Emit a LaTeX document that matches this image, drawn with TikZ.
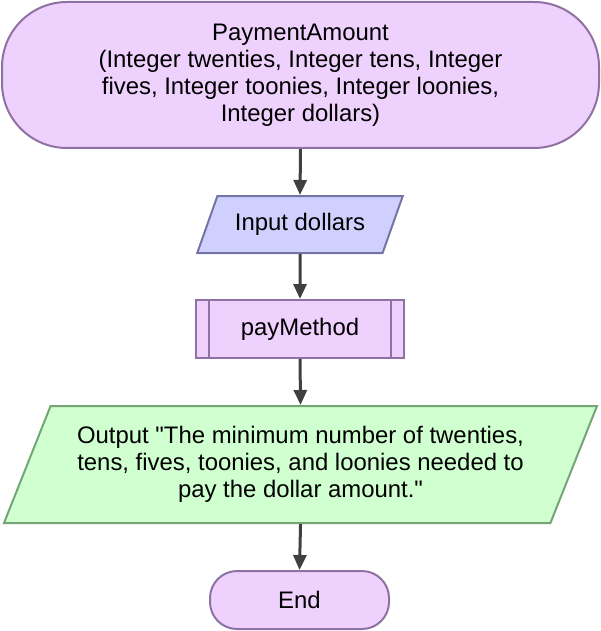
\documentclass[tikz,border=0pt]{standalone}
\usepackage{xcolor}
\usepackage{fontspec}
\setmainfont{Liberation Sans}
\usepackage{tikz}
\usetikzlibrary{shapes.geometric, arrows.meta, positioning, calc}

\definecolor{termfill}{HTML}{EFD1FD}
\definecolor{termline}{HTML}{8F72A3}
\definecolor{infill}{HTML}{D0D0FF}
\definecolor{inline}{HTML}{7575A5}
\definecolor{outfill}{HTML}{D0FFD0}
\definecolor{outline}{HTML}{75A575}
\definecolor{flowline}{HTML}{404040}

\begin{document}
\begin{tikzpicture}[
    x=1pt, y=1pt,
    every node/.style={font=\fontsize{23.9pt}{27pt}\selectfont, text=black},
    terminal/.style={rectangle, draw=termline, line width=2pt, fill=termfill, align=center},
    inbox/.style={trapezium, trapezium stretches=true, trapezium left angle=60, trapezium right angle=120, draw=inline, line width=2pt, fill=infill, align=center},
    outbox/.style={trapezium, trapezium stretches=true, trapezium left angle=63, trapezium right angle=117, draw=outline, line width=2pt, fill=outfill, align=center},
    process/.style={rectangle, draw=termline, line width=2pt, fill=termfill, minimum width=208pt, minimum height=58pt},
    flow/.style={draw=flowline, line width=3pt, -{Triangle[length=15pt, width=13pt]}}
]

\useasboundingbox (0,0) rectangle (601,-631);

% Shapes
\node[terminal, rounded corners=65pt, minimum width=597pt, minimum height=146pt] (start) at (300.5,-75)
    {PaymentAmount\\(Integer twenties, Integer tens, Integer\\fives, Integer toonies, Integer loonies,\\Integer dollars)};
\node[inbox, minimum width=206pt, minimum height=57pt] (input) at (300,-224.5) {Input dollars};
\node[process] (pay) at (300,-329) {payMethod};
\node[outbox, minimum width=597pt, minimum height=117pt] (output) at (300.5,-464.5)
    {Output \textquotedbl The minimum number of twenties,\\tens, fives, toonies, and loonies needed to\\pay the dollar amount.\textquotedbl};
\node[terminal, rounded corners=27pt, minimum width=179pt, minimum height=58pt] (end) at (299.5,-600) {End};

% Side bars of the subroutine box
\draw[termline, line width=2pt] ([xshift=14pt]pay.north west) -- ([xshift=14pt]pay.south west);
\draw[termline, line width=2pt] ([xshift=-14pt]pay.north east) -- ([xshift=-14pt]pay.south east);

% Flow
\draw[flow] (start.south) -- (input.north);
\draw[flow] (input.south) -- (pay.north);
\draw[flow] (pay.south) -- (output.north);
\draw[flow] (output.south) -- (end.north);

\end{tikzpicture}
\end{document}
